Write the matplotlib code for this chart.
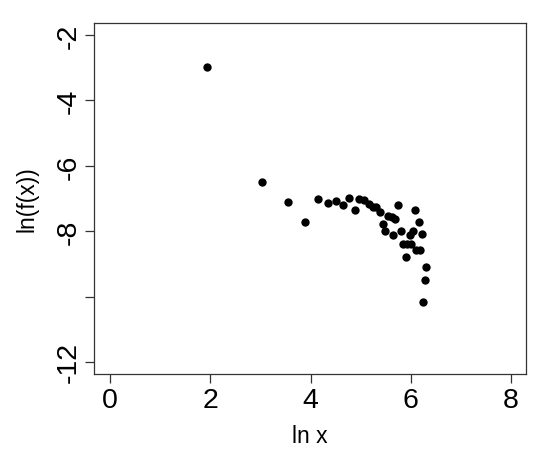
import numpy as np
import matplotlib
matplotlib.use("Agg")
import matplotlib.pyplot as plt

# ln x and ln(f(x)) values
lnx = [1.94, 3.03, 3.55, 3.89, 4.14, 4.34, 4.50, 4.65, 4.77, 4.89,
       4.97, 5.07, 5.16, 5.24, 5.31, 5.38, 5.44, 5.49, 5.55, 5.62,
       5.69, 5.65, 5.75, 5.80, 5.84, 5.92, 6.00, 5.91, 5.98, 6.04,
       6.08, 6.10, 6.17, 6.19, 6.22, 6.31, 6.29, 6.25]
lnf = [-2.97, -6.49, -7.11, -7.71, -7.02, -7.15, -7.07, -7.19, -6.97, -7.36,
       -7.01, -7.06, -7.18, -7.26, -7.26, -7.40, -7.79, -7.99, -7.53, -7.57,
       -7.63, -8.11, -7.19, -8.00, -8.40, -8.40, -8.40, -8.80, -8.11, -7.99,
       -7.36, -8.59, -7.71, -8.59, -8.10, -9.09, -9.49, -10.18]

xticks = [0, 2, 4, 6, 8]
yticks = [-2, -4, -6, -8, -10, -12]
ytick_labels = ['-2', '-4', '-6', '-8', '', '-12']

plt.rcParams['font.family'] = ['Liberation Sans', 'DejaVu Sans']

fig = plt.figure(figsize=(5.5, 4.56), dpi=100)
ax = fig.add_axes([0.1709, 0.1776, 0.7855, 0.7698])

ax.plot(lnx, lnf, 'o', color='black', markersize=6, markeredgewidth=0)

ax.set_xlim(-0.32, 8.30)
ax.set_ylim(-12.37, -1.63)
ax.set_xticks(xticks)
ax.set_xticklabels([str(t) for t in xticks])
ax.set_yticks(yticks)
ax.set_yticklabels(ytick_labels, rotation=90, va='center')

for s in ax.spines.values():
    s.set_color('#333333')
    s.set_linewidth(0.9)
ax.tick_params(axis='both', length=6.5, width=0.9, color='#333333',
               labelsize=20.5, pad=2.5)

ax.set_xlabel('ln x', fontsize=16.5, va='center')
ax.set_ylabel('ln(f(x))', fontsize=16.5, va='center')
ax.xaxis.set_label_coords(0.5, -0.174)
ax.yaxis.set_label_coords(-0.155, 0.5)

fig.savefig('out.png', dpi=100)
